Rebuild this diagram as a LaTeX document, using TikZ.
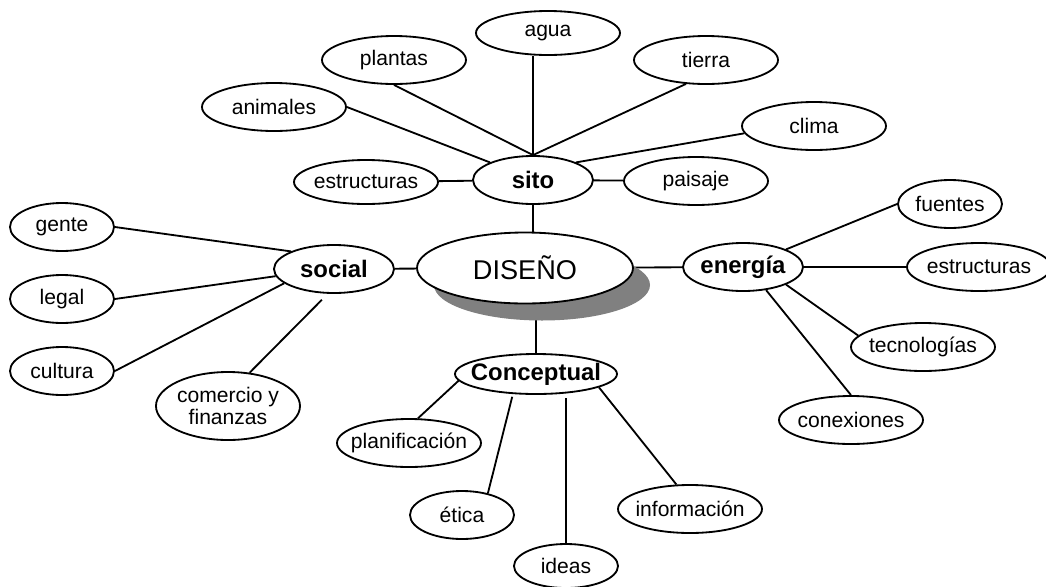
\documentclass[tikz,border=0pt]{standalone}
\usepackage{fontspec}
\setmainfont{Liberation Sans}
\usetikzlibrary{shapes.geometric, shadows, backgrounds}

\begin{document}
\begin{tikzpicture}[
    bnode/.style={
        ellipse,
        draw=black,
        line width=1.3pt,
        fill=white,
        inner xsep=-10pt, inner ysep=0pt,
        minimum width=3.6cm, minimum height=1.2cm,
        align=center,
        font=\fontsize{15}{15.6}\selectfont
    },
    sbnode/.style={bnode, minimum width=2.6cm},
    hub/.style={bnode, minimum width=3cm, font=\fontsize{17}{19}\selectfont\bfseries},
    link/.style={line width=1.3pt}
]
\useasboundingbox (-13.125,6.7) rectangle (13.025,-7.95);

% Central node
\node[bnode, minimum width=5.4cm, minimum height=1.775cm,
      font=\fontsize{19.3}{22}\selectfont,
      drop shadow={shadow xshift=0.425cm, shadow yshift=-0.425cm, opacity=1, fill=black!50}]
      (diseno) at (0,0) {DISEÑO};

% Four hubs
\node[hub] (sito) at (0.2,2.2) {sito};
\node[hub] (social) at (-4.775,-0.025) {social};
\node[hub] (energia) at (5.45,0.025) {energía};
\node[hub, minimum width=4.05cm, minimum height=1cm] (conceptual) at (0.275,-2.65) {Conceptual};

% sito
\node[bnode, minimum height=1.1cm] (estr1) at (-3.975,2.15) {estructuras};
\node[bnode] (animales) at (-6.275,4.025) {animales};
\node[bnode] (plantas) at (-3.275,5.2) {plantas};
\node[bnode, minimum height=1.1cm] (agua) at (0.575,5.875) {agua};
\node[bnode] (tierra) at (4.525,5.2) {tierra};
\node[bnode] (clima) at (7.225,3.55) {clima};
\node[bnode] (paisaje) at (4.275,2.175) {paisaje};

% social
\node[sbnode] (gente) at (-11.575,1.025) {gente};
\node[sbnode] (legal) at (-11.575,-0.775) {legal};
\node[sbnode] (cultura) at (-11.575,-2.575) {cultura};
\node[bnode, minimum height=1.7cm] (comercio) at (-7.425,-3.45) {comercio y\\finanzas};

% energia
\node[sbnode] (fuentes) at (10.625,1.6) {fuentes};
\node[bnode] (estr2) at (11.35,0.025) {estructuras};
\node[bnode] (tecnologias) at (9.95,-1.975) {tecnologías};
\node[bnode] (conexiones) at (8.15,-3.8) {conexiones};

% Conceptual
\node[bnode] (planificacion) at (-2.9,-4.375) {planificación};
\node[sbnode] (etica) at (-1.575,-6.175) {ética};
\node[sbnode, minimum height=1.1cm] (ideas) at (1.025,-7.45) {ideas};
\node[bnode] (informacion) at (4.125,-6.025) {información};

% Connectors behind the bubbles
\begin{scope}[on background layer]
\draw[link] (sito.south) -- (sito.south |- diseno.center);
\draw[link] (social) -- (diseno);
\draw[link] (energia) -- (diseno);
\draw[link] (conceptual.north) -- (conceptual.north |- diseno.center);

\draw[link] (sito) -- (estr1);
\draw[link] (sito.north west) -- (animales.east);
\draw[link] (sito.north) -- (plantas.south);
\draw[link] (sito.north) -- (sito.north |- agua.south);
\draw[link] (sito.north) -- (tierra.230);
\draw[link] (sito.north east) -- (clima.186);
\draw[link] (sito) -- (paisaje);

\draw[link] (social.north west) -- (gente.east);
\draw[link] (social.187) -- (legal.east);
\draw[link] (social.196) -- (cultura.east);
\draw[link, shorten >=6pt] (comercio.57) -- (social.256);

\draw[link] (energia.north east) -- (fuentes.west);
\draw[link] (energia) -- (estr2);
\draw[link] (energia.south east) -- (tecnologias.170);
\draw[link] (energia.315) -- (conexiones.north);

\draw[link] (conceptual.185) -- (planificacion.70);
\draw[link, shorten >=2pt] (etica.40) -- (conceptual.221);
\draw[link, shorten >=2pt] (ideas.north) -- (ideas.north |- conceptual.south);
\draw[link] (conceptual.-12) -- (informacion.119);
\end{scope}

\end{tikzpicture}
\end{document}
